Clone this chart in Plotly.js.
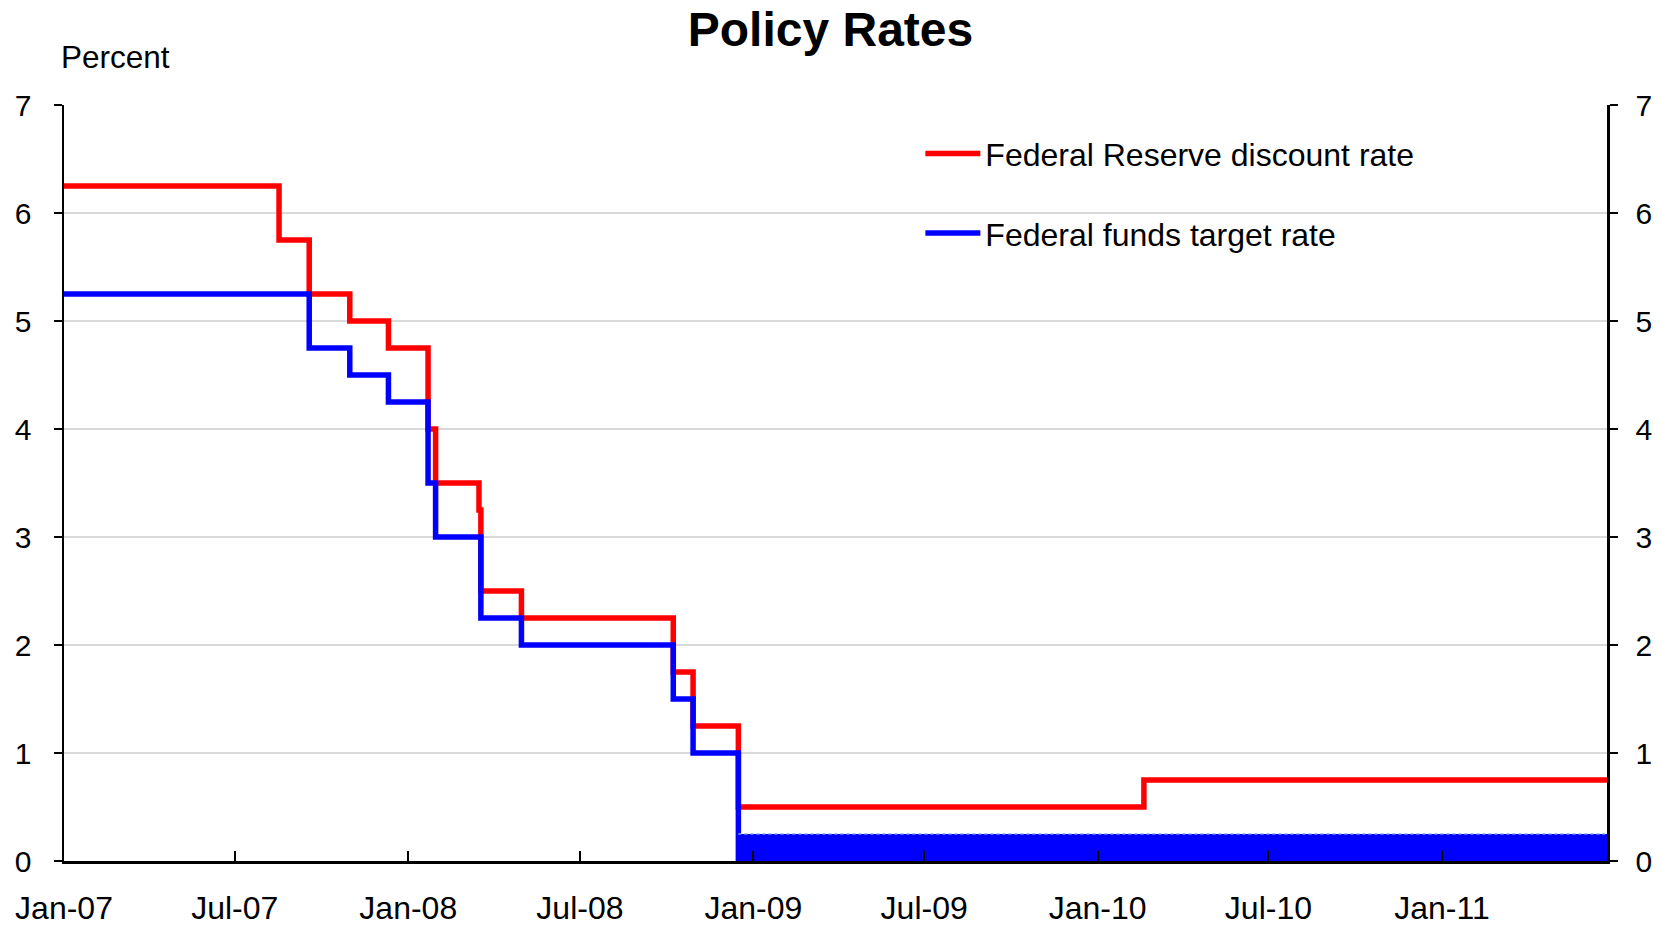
<!DOCTYPE html>
<html>
<head>
<meta charset="utf-8">
<script src="https://cdn.plot.ly/plotly-3.0.1.min.js"></script>
<style>html,body{margin:0;padding:0;background:#fff;}#chart{width:1661px;height:926px;}</style>
</head>
<body>
<div id="chart"></div>
<script>
// Federal Reserve discount rate (primary credit), change dates and levels
var discountDates = ["2007-01-01","2007-08-17","2007-09-18","2007-10-31","2007-12-11","2008-01-22","2008-01-30","2008-03-16","2008-03-18","2008-04-30","2008-10-08","2008-10-29","2008-12-16","2010-02-19","2011-06-25"];
var discountRates = [6.25,5.75,5.25,5.00,4.75,4.00,3.50,3.25,2.50,2.25,1.75,1.25,0.50,0.75,0.75];

// Federal funds target rate, change dates and levels (before the target range)
var fundsDates = ["2007-01-01","2007-09-18","2007-10-31","2007-12-11","2008-01-22","2008-01-30","2008-03-18","2008-04-30","2008-10-08","2008-10-29","2008-12-16"];
var fundsRates = [5.25,4.75,4.50,4.25,3.50,3.00,2.25,2.00,1.50,1.00,0.00];

// Federal funds target range 0 - 0.25 (upper bound), from Dec 16 2008
var rangeDates = ["2008-12-16","2011-06-25"];
var rangeUpper = [0.25,0.25];

var xRange = ["2007-01-01","2011-06-25"];
var yTicks = [0,1,2,3,4,5,6,7];

var FONT = "Liberation Sans, Arial, sans-serif";

var traces = [
  {x: discountDates, y: discountRates, type: "scatter", mode: "lines",
   line: {color: "#ff0000", width: 5.5, shape: "hv"},
   name: "Federal Reserve discount rate", legendgroup: "a"},
  {x: fundsDates, y: fundsRates, type: "scatter", mode: "lines",
   line: {color: "#0000ff", width: 5.5, shape: "hv"},
   name: "Federal funds target rate", legendgroup: "b"},
  {x: rangeDates, y: rangeUpper, type: "scatter", mode: "lines",
   fill: "tozeroy", fillcolor: "#0000ff",
   line: {color: "#7f9fff", width: 1.5, dash: "dot", shape: "hv"},
   showlegend: false, yaxis: "y2"}
];

var layout = {
  width: 1661, height: 926,
  paper_bgcolor: "#ffffff", plot_bgcolor: "#ffffff",
  margin: {l: 64, r: 54, t: 105, b: 65},
  font: {family: FONT, color: "#000000", size: 30},
  title: {text: "<b>Policy Rates</b>", font: {family: FONT, size: 48, color: "#000"},
          x: 0.5, xref: "container", xanchor: "center", y: 0.968, yref: "container", yanchor: "middle"},
  showlegend: true,
  legend: {x: 0.555, xanchor: "left", y: 0.972, yanchor: "top", bgcolor: "rgba(0,0,0,0)",
           font: {family: FONT, size: 32}, itemwidth: 55, tracegroupgap: 35,
           traceorder: "grouped"},
  xaxis: {type: "date", range: xRange, tick0: "2007-01-01", dtick: "M6", tickformat: "%b-%y",
          showgrid: false, zeroline: false, showline: true, linecolor: "#000", linewidth: 2.5,
          ticks: "inside", ticklen: 10, tickwidth: 2, tickcolor: "#000",
          tickfont: {family: FONT, size: 32}, ticklabelstandoff: 17},
  yaxis: {range: [0, 7], tickvals: yTicks, showgrid: true, gridcolor: "#d9d9d9", gridwidth: 1.5,
          zeroline: false, showline: true, linecolor: "#000", linewidth: 2.5,
          ticks: "outside", ticklen: 8, tickwidth: 2, tickcolor: "#000",
          tickfont: {family: FONT, size: 30}, ticklabelstandoff: 16},
  yaxis2: {range: [0, 7], tickvals: yTicks, overlaying: "y", side: "right", anchor: "x",
           showgrid: false, zeroline: false, showline: true, linecolor: "#000", linewidth: 2.5,
           ticks: "outside", ticklen: 8, tickwidth: 2, tickcolor: "#000",
           tickfont: {family: FONT, size: 30}, ticklabelstandoff: 12},
  annotations: [
    {text: "Percent", xref: "paper", yref: "paper", x: 0, y: 1, xanchor: "left", yanchor: "middle",
     xshift: -5, yshift: 48, showarrow: false, font: {family: FONT, size: 31.5, color: "#000"}}
  ]
};

Plotly.newPlot("chart", traces, layout, {displayModeBar: false, staticPlot: true});
</script>
</body>
</html>
